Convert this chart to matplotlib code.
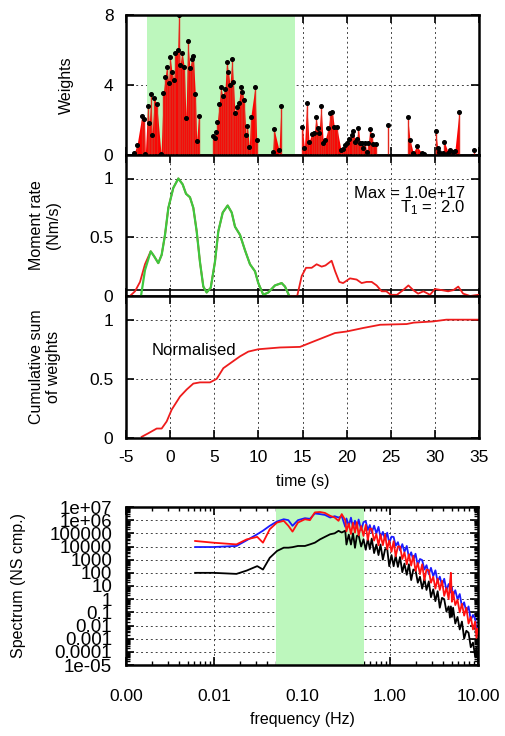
import matplotlib
matplotlib.use("Agg")
import matplotlib.pyplot as plt
import numpy as np
from matplotlib.ticker import FixedLocator, LogLocator, NullFormatter

plt.rcParams['font.family'] = ['Liberation Sans', 'DejaVu Sans']
plt.rcParams['mathtext.fontset'] = 'custom'
plt.rcParams['mathtext.rm'] = 'Liberation Sans'
plt.rcParams['mathtext.it'] = 'Liberation Sans:italic'
plt.rcParams['axes.unicode_minus'] = False

# --- weights (time in s, weight)
w_time = [-4.06, -3.75, -3.20, -2.93, -2.81, -2.54, -2.36, -2.17, -2.05, -1.79, -1.52,
          -1.03, -0.77, -0.55, -0.39, -0.17, -0.01, 0.21, 0.42, 0.59, 0.86, 0.97, 1.12,
          1.35, 1.61, 1.80, 1.99, 2.25, 2.44, 2.63, 2.85, 3.01, 3.22,
          4.82, 5.05, 5.20, 5.35, 5.57, 5.73, 5.96, 6.22, 6.41, 6.60, 6.78, 7.01, 7.16,
          7.35, 7.54, 7.77, 8.00, 8.18, 8.37, 8.60, 8.75, 8.97, 9.13, 9.62, 9.81,
          11.62, 11.77, 12.34, 12.56,
          14.98, 15.22, 15.47, 15.74, 16.04, 16.34, 16.53, 16.72, 16.87, 17.10, 17.36,
          17.55, 17.93, 18.15, 18.38, 18.60, 18.87, 19.36, 19.63, 19.82, 20.00, 20.27,
          20.57, 20.76, 20.95, 21.14, 21.33, 21.52, 21.70, 21.89, 22.08, 22.27, 22.46,
          22.65, 22.84, 23.02, 23.33, 24.65, 26.92, 27.18, 27.55, 27.94, 28.50, 28.80,
          30.09, 30.32, 30.50, 30.95, 31.07, 31.52, 31.71, 32.09, 32.27, 32.73, 34.46]
w_value = [0.13, 0.57, 2.25, 2.08, 0.06, 2.81, 1.81, 3.49, 1.14, 3.23, 2.91,
           0.06, 3.55, 4.47, 5.05, 4.13, 5.60, 4.76, 4.27, 5.81, 6.00, 8.00, 5.14,
           5.85, 5.01, 2.10, 6.53, 4.95, 5.50, 5.66, 3.50, 0.82, 2.23,
           1.09, 0.95, 1.31, 1.90, 2.90, 3.87, 3.37, 3.79, 5.33, 4.74, 4.02, 5.47, 4.19,
           2.38, 2.72, 2.99, 3.90, 3.62, 3.14, 1.14, 1.67, 0.48, 2.15, 3.90, 0.86,
           0.19, 1.49, 0.29, 2.80,
           1.62, 0.40, 2.99, 0.76, 1.20, 1.27, 2.15, 1.52, 1.27, 2.80, 0.67,
           0.86, 1.52, 2.42, 2.48, 1.62, 1.62, 0.29, 0.32, 0.57, 0.70, 0.90,
           1.14, 1.39, 0.76, 0.90, 1.56, 0.70, 0.70, 0.42, 0.70, 0.19, 0.67,
           1.47, 1.14, 0.63, 0.61, 1.71, 2.15, 0.86, 0.13, 0.51, 0.13, 0.06,
           1.37, 0.38, 0.19, 0.13, 0.76, 0.13, 0.29, 0.19, 0.25, 2.44, 0.29]

# --- moment rate (normalised)
mr_time = [-4.55, -3.98, -3.41, -2.85, -2.20, -1.83, -1.34, -0.96, -0.58, -0.20, 0.36,
           0.93, 1.42, 1.80, 2.25, 2.63, 3.01, 3.38, 3.76, 4.14, 4.60, 5.08, 5.46, 5.96,
           6.52, 6.98, 7.35, 7.92, 8.48, 9.05, 9.62, 9.99, 10.56, 11.12, 11.88, 12.64,
           13.02, 13.50, 13.90, 14.40, 14.91, 15.40, 16.04, 16.60, 17.17, 17.60, 18.30,
           18.70, 19.17, 19.60, 20.38, 21.13, 21.70, 22.27, 22.84, 23.40, 23.97, 24.50,
           25.00, 25.70, 26.40, 27.00, 27.55, 28.10, 28.70, 29.45, 30.00, 30.77, 31.50,
           32.10, 32.65, 33.20, 34.00, 34.90]
mr_value = [0.00, 0.04, 0.12, 0.27, 0.38, 0.34, 0.28, 0.35, 0.52, 0.75, 0.92,
            1.00, 0.95, 0.87, 0.84, 0.75, 0.55, 0.29, 0.08, 0.03, 0.07, 0.29, 0.55, 0.71,
            0.77, 0.71, 0.59, 0.52, 0.39, 0.27, 0.21, 0.11, 0.01, 0.03, 0.09, 0.11,
            0.08, 0.00, 0.00, 0.00, 0.17, 0.24, 0.24, 0.27, 0.25, 0.26, 0.30,
            0.21, 0.12, 0.11, 0.15, 0.14, 0.11, 0.12, 0.12, 0.09, 0.04, 0.04,
            0.01, 0.01, 0.05, 0.09, 0.05, 0.02, 0.04, 0.01, 0.06, 0.05, 0.04,
            0.05, 0.08, 0.02, 0.00, 0.01]
# windowed moment rate (green), starts inside the window
win_time = [-3.30, -2.85, -2.20, -1.83, -1.34, -0.96, -0.58, -0.20, 0.36, 0.93, 1.42,
            1.80, 2.25, 2.63, 3.01, 3.38, 3.76, 4.14, 4.60, 5.08, 5.46, 5.96, 6.52, 6.98,
            7.35, 7.92, 8.48, 9.05, 9.62, 9.99, 10.56, 11.12, 11.88, 12.64, 13.02, 13.50]
win_value = [0.00, 0.22, 0.38, 0.34, 0.28, 0.35, 0.52, 0.75, 0.92, 1.00, 0.95,
             0.87, 0.84, 0.75, 0.55, 0.29, 0.08, 0.03, 0.07, 0.29, 0.55, 0.71, 0.77, 0.71,
             0.59, 0.52, 0.39, 0.27, 0.21, 0.11, 0.01, 0.03, 0.09, 0.11, 0.08, 0.00]

# --- cumulative sum of weights
cs_time = [-3.22, -2.47, -1.52, -0.96, -0.39, 0.18, 1.12, 1.88, 2.63, 3.38, 4.52, 5.28,
           6.03, 7.16, 7.92, 8.86, 9.99, 12.45, 14.72, 16.23, 18.68, 20.00, 21.90, 23.80,
           26.80, 27.60, 29.80, 31.30, 35.00]
cs_value = [0.01, 0.04, 0.08, 0.08, 0.14, 0.24, 0.35, 0.41, 0.46, 0.47, 0.47, 0.50,
            0.59, 0.65, 0.69, 0.73, 0.75, 0.765, 0.77, 0.815, 0.887, 0.90, 0.93, 0.957,
            0.963, 0.975, 0.985, 1.00, 1.00]

# --- spectra (frequency in Hz, log10 of amplitude)
freq = [0.0061, 0.0098, 0.018, 0.0235, 0.031, 0.036, 0.043, 0.052, 0.062, 0.070, 0.078,
        0.090, 0.108, 0.123, 0.140, 0.160, 0.182, 0.209, 0.235, 0.260, 0.283,
        0.31, 0.32, 0.34, 0.36, 0.38, 0.40, 0.42, 0.44, 0.47, 0.50, 0.53, 0.56, 0.59,
        0.62, 0.66, 0.70, 0.74, 0.78, 0.83, 0.88, 0.93, 0.98, 1.04, 1.10, 1.16, 1.23,
        1.30, 1.38, 1.46, 1.55, 1.64, 1.74, 1.84, 1.95, 2.07, 2.19, 2.32, 2.46, 2.60,
        2.76, 2.92, 3.10, 3.28, 3.48, 3.68, 3.90, 4.13, 4.38, 4.64, 4.80, 4.92, 5.05,
        5.21, 5.52, 5.85, 6.20, 6.57, 6.96, 7.37, 7.81, 8.28, 8.77, 9.29, 9.60, 9.90]
blue_log = [3.96, 3.96, 4.04, 4.47, 4.93, 5.20, 5.57, 5.90, 6.07, 6.00, 5.57,
            6.00, 6.15, 6.10, 6.51, 6.46, 6.40, 6.20, 6.30, 6.20, 6.30,
            5.50, 6.13, 5.59, 6.19, 5.43, 5.96, 5.42, 6.05, 5.26, 5.85, 5.92, 5.25, 5.63,
            5.05, 5.58, 4.99, 5.49, 4.68, 5.11, 4.52, 5.05, 4.26, 4.75, 4.72, 4.05, 4.33,
            3.70, 4.18, 3.59, 4.04, 3.18, 3.56, 2.97, 3.45, 2.56, 3.05, 2.97, 2.25, 2.58,
            1.90, 2.38, 1.74, 2.19, 1.33, 1.71, 1.07, 1.55, 0.66, 1.15, 1.12, 0.50, 0.88,
            0.25, 0.68, -0.01, 0.39, -0.57, -0.24, -0.98, -0.55, -1.59, -1.20, -1.48, -2.35, -2.22]
red_log = [4.42, 4.29, 4.16, 4.54, 4.73, 4.29, 5.31, 5.82, 5.95, 5.57, 5.13,
           5.82, 6.07, 6.00, 6.59, 6.62, 6.55, 6.33, 6.20, 5.95, 6.46,
           6.00, 5.15, 5.75, 4.95, 5.80, 5.05, 5.85, 4.85, 5.55, 4.80, 5.65, 4.50, 5.35,
           5.35, 4.45, 4.95, 4.10, 4.90, 4.10, 4.90, 3.80, 4.45, 3.60, 4.40, 3.25, 4.00,
           4.00, 3.05, 3.55, 2.65, 3.40, 2.55, 3.30, 2.15, 2.75, 1.90, 2.65, 1.45, 2.25,
           2.20, 1.25, 1.70, 0.80, 1.55, 0.70, 1.40, 0.25, 0.85, 0.00, 1.20, 2.00, -0.20,
           0.55, -0.45, -0.05, -1.00, -0.35, -1.25, -0.65, -1.85, -1.35, -2.30, -1.70, -2.95, -2.25]
black_log = [2.00, 2.00, 1.92, 2.17, 2.51, 2.25, 3.14, 3.66, 3.91, 3.91, 3.95,
             4.04, 4.04, 4.16, 4.29, 4.54, 4.73, 4.93, 5.00, 5.19, 5.06,
             5.20, 4.15, 4.90, 4.15, 5.00, 3.90, 4.80, 4.85, 4.00, 4.55, 3.75, 4.60, 3.80,
             4.60, 3.50, 4.15, 3.35, 4.15, 3.00, 3.80, 3.80, 2.50, 3.35, 2.50, 3.30, 2.45,
             3.20, 2.05, 2.70, 1.85, 2.65, 1.45, 2.25, 2.20, 1.25, 1.70, 0.80, 1.55, 0.70,
             1.35, 0.15, 0.75, -0.15, 0.60, -0.65, 0.10, 0.00, -0.95, -0.55, -1.40, -0.55, -1.35,
             -0.65, -1.85, -1.35, -2.30, -1.70, -3.00, -2.40, -2.55, -3.65, -3.30, -4.35, -3.60, -4.40]
spec_ylabels = ['1e+07', '1e+06', '100000', '10000', '1000', '100', '10', '1',
                '0.1', '0.01', '0.001', '0.0001', '1e-05']
spec_xlabels = ['0.00', '0.01', '0.10', '1.00', '10.00']

GREEN = '#bdf7bd'
RED = '#ee1c1c'

fig = plt.figure(figsize=(5.06, 7.36), dpi=100)
W, H = 506.0, 736.0


def panel(left, top, right, bottom):
    return fig.add_axes([left / W, 1 - bottom / H, (right - left) / W, (bottom - top) / H])


def style(ax):
    ax.tick_params(direction='in', top=True, right=True, length=6, width=1.2,
                   labelsize=12.5, pad=9)
    ax.tick_params(which='minor', direction='in', top=True, right=True, length=3, width=1)
    for s in ax.spines.values():
        s.set_linewidth(1.8)
    ax.set_axisbelow(True)
    ax.grid(True, which='major', linestyle=(0, (2, 3)), color='#444444', linewidth=0.7)


ax1 = panel(126, 15, 479, 155)
ax2 = panel(126, 155, 479, 296)
ax3 = panel(126, 296, 479, 438)
ax4 = panel(126, 507, 478, 665)

# panel 1 : weights
t = np.array(w_time)
w = np.array(w_value)
ax1.axvspan(-2.6, 14.1, color=GREEN, lw=0, zorder=1)
breaks = np.where(np.diff(t) >= 0.6)[0] + 1
for seg_t, seg_w in zip(np.split(t, breaks), np.split(w, breaks)):
    if len(seg_t) > 1:
        ax1.fill_between(seg_t, 0, seg_w, color='#ff0000', linewidth=0, zorder=2)
ax1.vlines(t, 0, w, color='#e3281c', linewidth=1.0, zorder=3)
ax1.plot(t, w, 'o', color='black', markersize=2.6, zorder=4)
ax1.set_xlim(-5, 35)
ax1.set_ylim(0, 8)
ax1.set_yticks([0, 4, 8])
ax1.set_xticks(range(-5, 36, 5))
ax1.set_xticklabels([])
style(ax1)
ax1.set_ylabel('Weights', fontsize=11.5)
ax1.yaxis.set_label_coords(-0.147, 0.5)

# panel 2 : moment rate
ax2.plot(mr_time, mr_value, color=RED, lw=1.3, zorder=3)
ax2.plot(win_time, win_value, color='#3ec83e', lw=1.6, zorder=4)
ax2.axhline(0.05, color='black', lw=1.2, zorder=2)
ax2.set_xlim(-5, 35)
ax2.set_ylim(0, 1.2)
ax2.set_yticks([0, 0.5, 1])
ax2.set_yticklabels(['0', '0.5', '1'])
ax2.set_xticks(range(-5, 36, 5))
ax2.set_xticklabels([])
style(ax2)
ax2.set_ylabel('Moment rate\n(Nm/s)', fontsize=11.5, linespacing=1.1)
ax2.yaxis.set_label_coords(-0.185, 0.5)
ax2.text(33.4, 0.87, 'Max = 1.0e+17', ha='right', va='center', fontsize=12)
ax2.text(33.4, 0.75, 'T$_1$ =  2.0', ha='right', va='center', fontsize=12)

# panel 3 : cumulative sum
ax3.plot(cs_time, cs_value, color=RED, lw=1.3)
ax3.set_xlim(-5, 35)
ax3.set_ylim(0, 1.2)
ax3.set_yticks([0, 0.5, 1])
ax3.set_yticklabels(['0', '0.5', '1'])
ax3.set_xticks(range(-5, 36, 5))
style(ax3)
ax3.set_ylabel('Cumulative sum\nof weights', fontsize=11.5, linespacing=1.1)
ax3.yaxis.set_label_coords(-0.185, 0.5)
ax3.set_xlabel('time (s)', fontsize=11.5, labelpad=6)
ax3.text(-2.1, 0.74, 'Normalised', ha='left', va='center', fontsize=12)

# panel 4 : spectra
f = np.array(freq)
ax4.axvspan(0.05, 0.5, color=GREEN, lw=0, zorder=1)
ax4.plot(f, 10 ** np.array(black_log), color='black', lw=1.3, zorder=3)
ax4.plot(f, 10 ** np.array(blue_log), color='#1a1aff', lw=1.3, zorder=3)
ax4.plot(f, 10 ** np.array(red_log), color='#ff1010', lw=1.3, zorder=4)
ax4.set_xscale('log')
ax4.set_yscale('log')
ax4.set_xlim(0.001, 10)
ax4.set_ylim(1e-5, 1e7)
ax4.xaxis.set_major_locator(FixedLocator([0.001, 0.01, 0.1, 1, 10]))
ax4.set_xticklabels(spec_xlabels)
ax4.xaxis.set_minor_locator(LogLocator(base=10, subs=np.arange(2, 10)))
ax4.xaxis.set_minor_formatter(NullFormatter())
ax4.yaxis.set_major_locator(FixedLocator([10.0 ** k for k in range(7, -6, -1)]))
ax4.set_yticklabels(spec_ylabels)
ax4.yaxis.set_minor_locator(LogLocator(base=10, subs=np.arange(2, 10), numticks=30))
ax4.yaxis.set_minor_formatter(NullFormatter())
style(ax4)
ax4.tick_params(axis='x', pad=17)
ax4.tick_params(axis='y', pad=10, labelsize=13.5)
ax4.set_xlabel('frequency (Hz)', fontsize=11.5, labelpad=6)
ax4.set_ylabel('Spectrum (NS cmp.)', fontsize=11.5)
ax4.yaxis.set_label_coords(-0.285, 0.5)

fig.savefig('out.png', dpi=100)
